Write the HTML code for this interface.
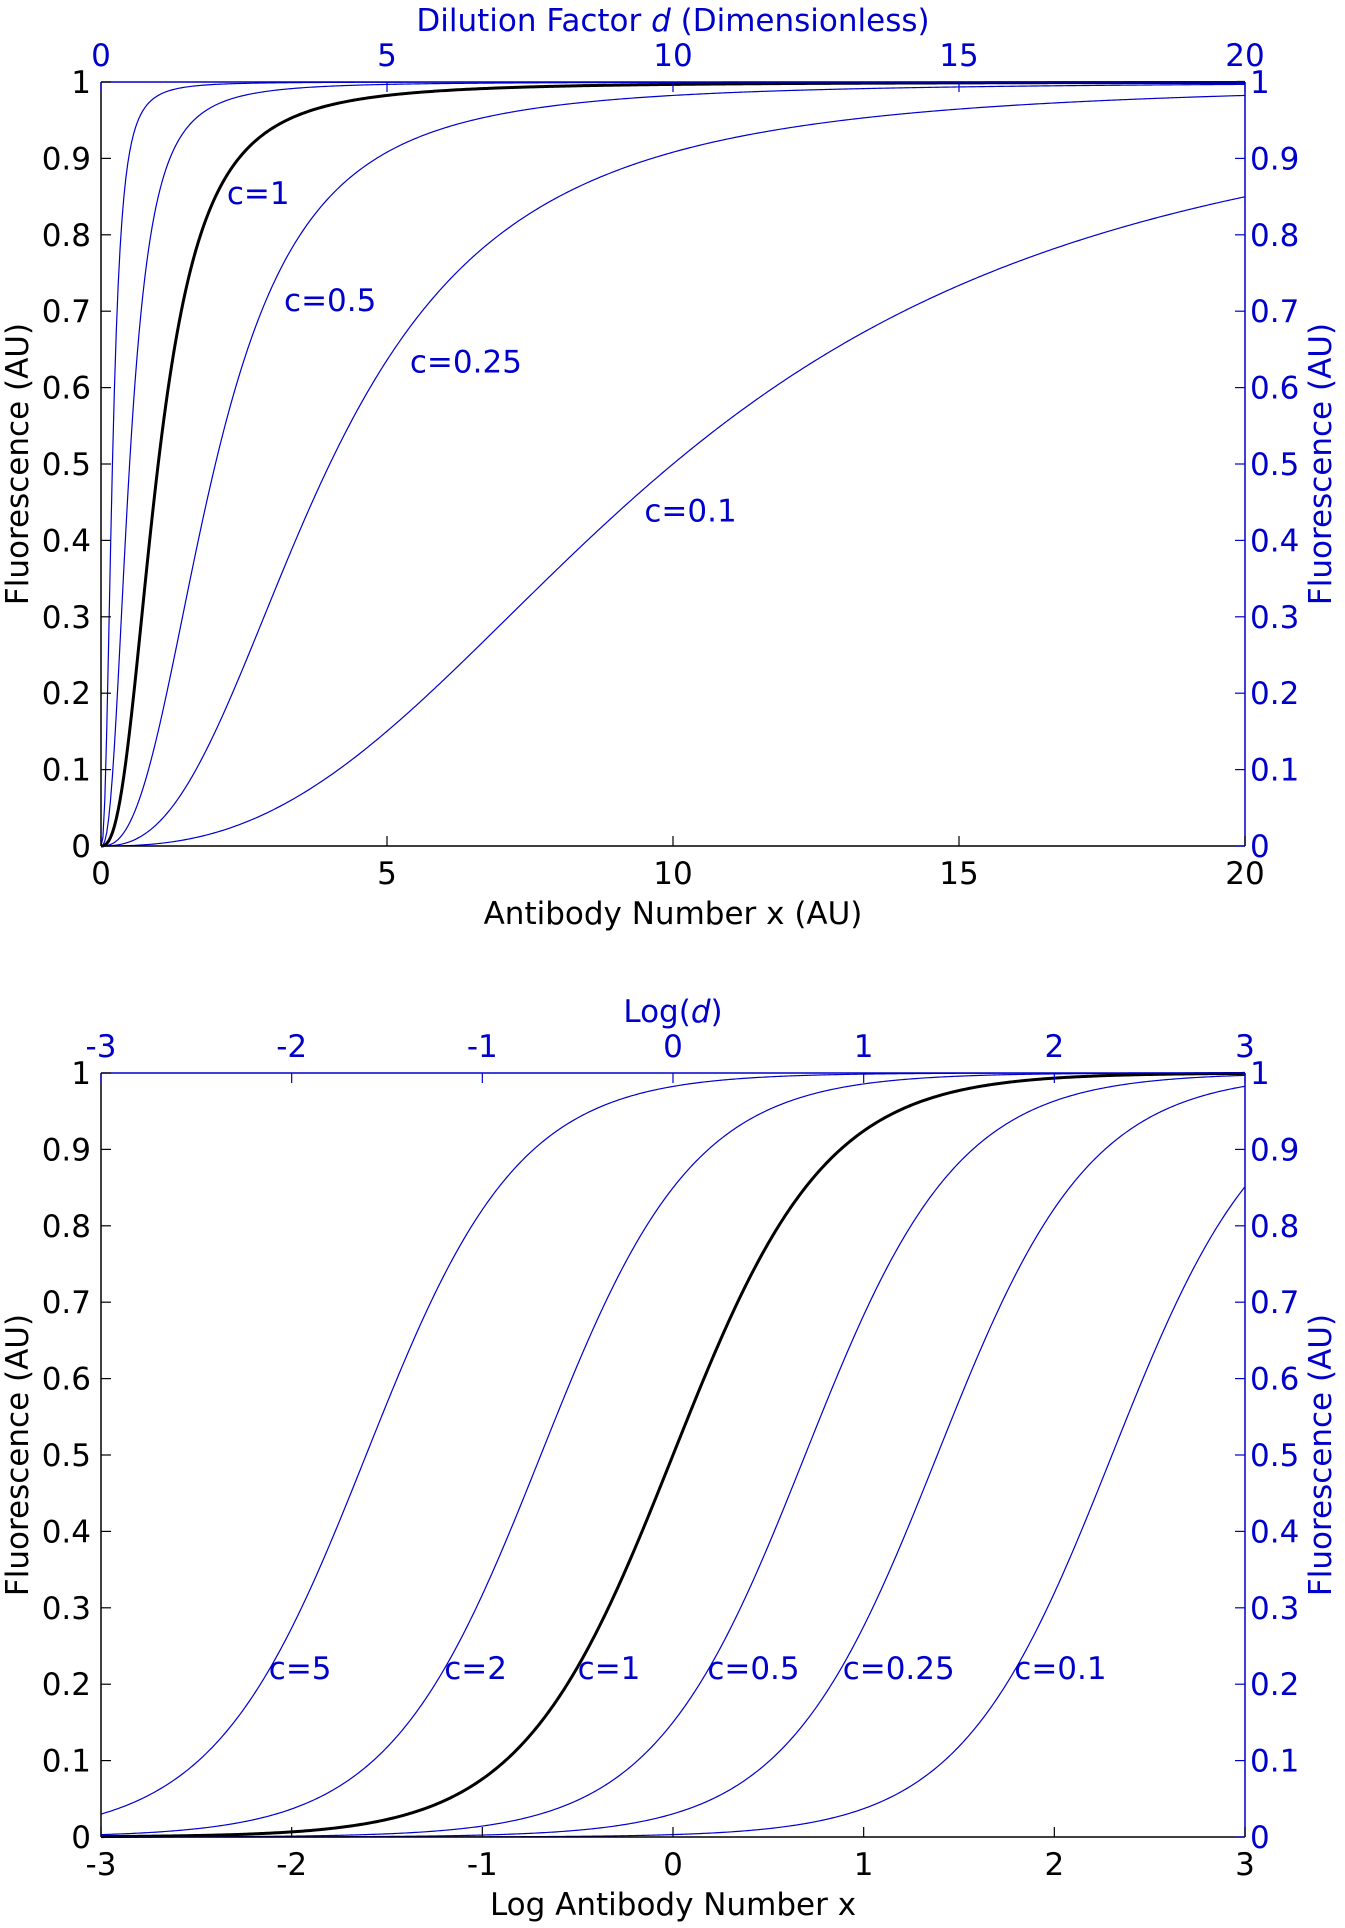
<!DOCTYPE html>
<html><head><meta charset="utf-8"><style>
html,body{margin:0;padding:0;background:#fff;}
svg{display:block;font-family:"DejaVu Sans","Liberation Sans",sans-serif;}
</style></head><body>
<svg id="chart" width="1345" height="1928" viewBox="0 0 1345 1928" xmlns="http://www.w3.org/2000/svg"></svg>
<script>
// data: dissociation/scale constants c for each curve, and Hill exponent
const topCValues = [5, 2, 1, 0.5, 0.25, 0.1];
const bottomCValues = [5, 2, 1, 0.5, 0.25, 0.1];
const hillExponent = [2.5];
const topXTicks = [0, 5, 10, 15, 20];
const bottomXTicks = [-3, -2, -1, 0, 1, 2, 3];
const yTicks = [0, 0.1, 0.2, 0.3, 0.4, 0.5, 0.6, 0.7, 0.8, 0.9, 1];
const topLabels = ["c=1", "c=0.5", "c=0.25", "c=0.1"];
const topLabelX = [2.2, 3.2, 5.4, 9.5];
const topLabelY = [0.84, 0.70, 0.62, 0.425];
const bottomLabels = ["c=5", "c=2", "c=1", "c=0.5", "c=0.25", "c=0.1"];
const bottomLabelX = [-2.12, -1.2, -0.5, 0.18, 0.89, 1.79];
const bottomLabelY = [0.207, 0.207, 0.207, 0.207, 0.207, 0.207];

const svg = document.getElementById('chart');
const NS = 'http://www.w3.org/2000/svg';
const BLUE = '#0000cc';
const FS = 31;
function mk(tag, attrs, parent) {
  const e = document.createElementNS(NS, tag);
  for (const k in attrs) e.setAttribute(k, attrs[k]);
  (parent || svg).appendChild(e);
  return e;
}
function model(c, x) { const v = Math.pow(c * x, hillExponent[0]); return v / (1 + v); }

function panel(opt) {
  const g = mk('g', {});
  
  
  const L = 101, R = 1245, T = opt.top, B = opt.top + 764;
  const sx = v => L + (v - opt.xmin) / (opt.xmax - opt.xmin) * (R - L);
  const sy = v => B - v * (B - T);
  opt.cs.forEach((c, i) => {
    let d = '';
    for (let k = 0; k <= 600; k++) {
      const xv = opt.xmin + (opt.xmax - opt.xmin) * k / 600;
      const xr = opt.log ? Math.exp(xv) : xv;
      d += (k ? 'L' : 'M') + sx(xv).toFixed(2) + ' ' + sy(model(c, xr)).toFixed(2);
    }
    const p = mk('path', {d: d, fill: 'none', stroke: c === 1 ? '#000' : BLUE, 'stroke-width': c === 1 ? 3 : 1.2}, g);
    
    
  });
  mk('line', {x1: L, y1: T, x2: R, y2: T, stroke: BLUE, 'stroke-width': 1.5}, g);
  mk('line', {x1: R, y1: T, x2: R, y2: B, stroke: BLUE, 'stroke-width': 1.5}, g);
  mk('line', {x1: L, y1: T, x2: L, y2: B, stroke: '#000', 'stroke-width': 1.5}, g);
  mk('line', {x1: L, y1: B, x2: R, y2: B, stroke: '#000', 'stroke-width': 1.5}, g);
  yTicks.forEach(v => {
    const y = sy(v);
    mk('line', {x1: L, y1: y, x2: L + 10, y2: y, stroke: '#000', 'stroke-width': 1.2}, g);
    mk('line', {x1: R, y1: y, x2: R - 10, y2: y, stroke: BLUE, 'stroke-width': 1.2}, g);
    const t1 = mk('text', {x: 91, y: y + 11, 'font-size': FS, 'text-anchor': 'end', fill: '#000'}, g);
    t1.textContent = String(v);
    
    
    const t2 = mk('text', {x: 1250, y: y + 11, 'font-size': FS, fill: BLUE}, g);
    t2.textContent = String(v);
    
    
  });
  opt.ticks.forEach(v => {
    const x = sx(v);
    mk('line', {x1: x, y1: B, x2: x, y2: B - 10, stroke: '#000', 'stroke-width': 1.2}, g);
    mk('line', {x1: x, y1: T, x2: x, y2: T + 10, stroke: BLUE, 'stroke-width': 1.2}, g);
    const t1 = mk('text', {x: x, y: B + 38, 'font-size': FS, 'text-anchor': 'middle', fill: '#000'}, g);
    t1.textContent = String(v);
    
    
    const t2 = mk('text', {x: x, y: T - 16, 'font-size': FS, 'text-anchor': 'middle', fill: BLUE}, g);
    t2.textContent = String(v);
    
    
  });
  opt.labels.forEach((s, i) => {
    const t = mk('text', {x: sx(opt.lx[i]), y: sy(opt.ly[i]), 'font-size': FS, fill: BLUE}, g);
    t.textContent = s;
    
    
  });
  const xt = mk('text', {x: (L + R) / 2, y: B + 78, 'font-size': FS, 'text-anchor': 'middle', fill: '#000'}, g);
  xt.textContent = opt.xtitle;
  
  
  const tt = mk('text', {x: (L + R) / 2, y: T - 51, 'font-size': FS, 'text-anchor': 'middle', fill: BLUE}, g);
  tt.innerHTML = opt.toptitle;
  
  
  const cy = (T + B) / 2;
  const yl = mk('text', {x: 28, y: cy, 'font-size': FS, 'text-anchor': 'middle', fill: '#000', transform: 'rotate(-90 28 ' + cy + ')'}, g);
  yl.textContent = 'Fluorescence (AU)';
  
  
  const yr = mk('text', {x: 1331, y: cy, 'font-size': FS, 'text-anchor': 'middle', fill: BLUE, transform: 'rotate(-90 1331 ' + cy + ')'}, g);
  yr.textContent = 'Fluorescence (AU)';
  
  
}

panel({name: 'linear-panel', top: 82, xmin: 0, xmax: 20, log: false, cs: topCValues, ticks: topXTicks,
  labels: topLabels, lx: topLabelX, ly: topLabelY, xtitle: 'Antibody Number x (AU)',
  toptitle: 'Dilution Factor <tspan font-style="italic">d</tspan> (Dimensionless)'});
panel({name: 'log-panel', top: 1073, xmin: -3, xmax: 3, log: true, cs: bottomCValues, ticks: bottomXTicks,
  labels: bottomLabels, lx: bottomLabelX, ly: bottomLabelY, xtitle: 'Log Antibody Number x',
  toptitle: 'Log(<tspan font-style="italic">d</tspan>)'});
</script>
</body></html>
